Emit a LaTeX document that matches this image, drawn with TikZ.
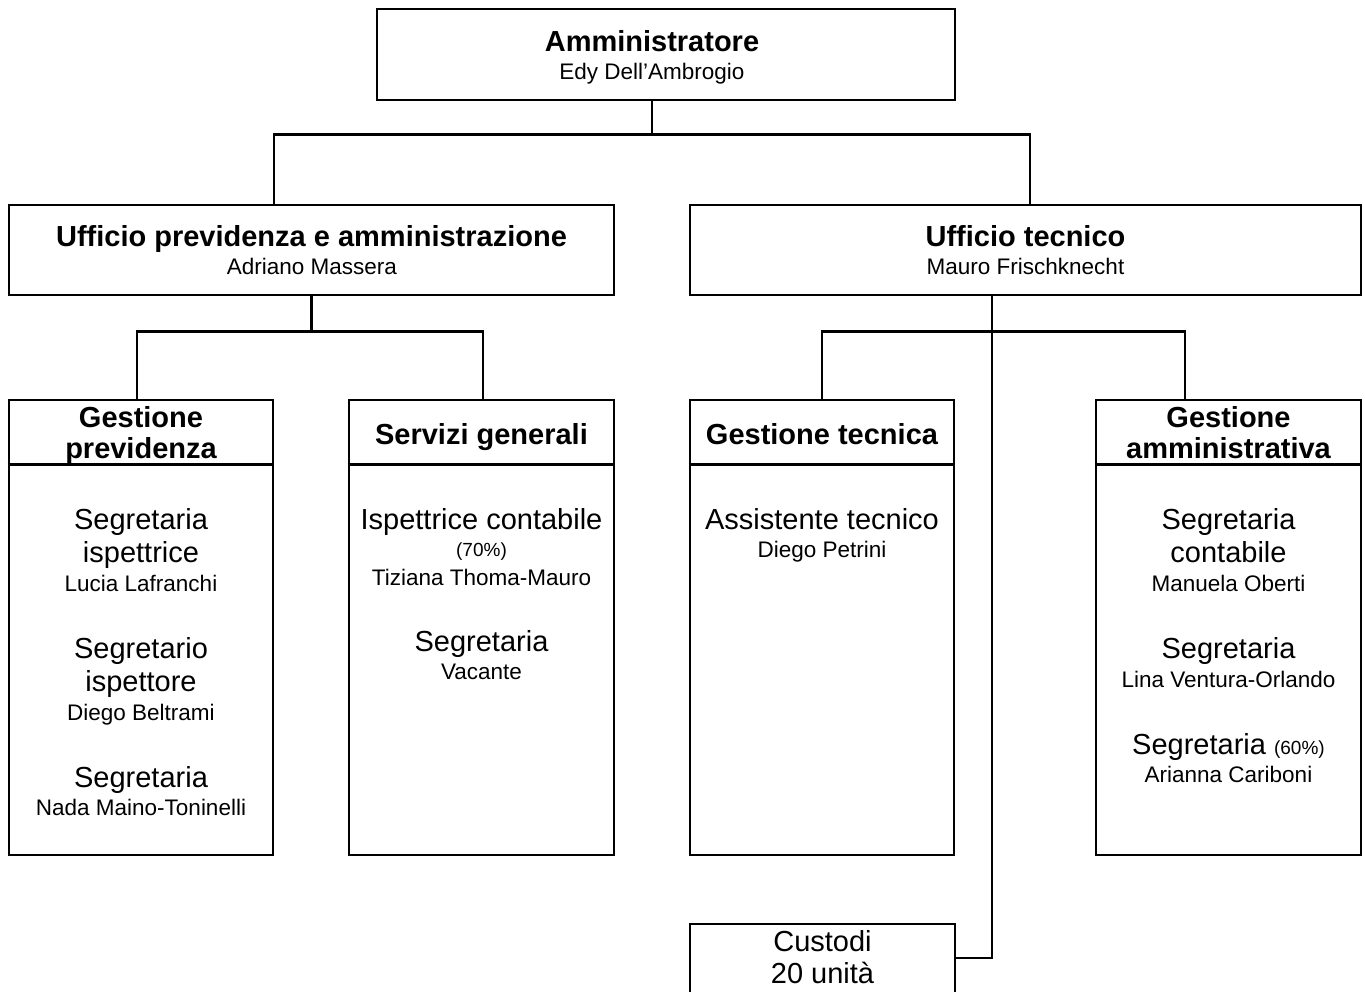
\documentclass[tikz,border=0pt]{standalone}
\usepackage{fontspec}
\setmainfont{Liberation Sans}
\usetikzlibrary{calc}
\tikzset{
  box/.style={draw, line width=2.8pt, inner sep=0pt, minimum width=#1},
  conn/.style={line width=2.8pt},
  hd/.style={anchor=base, inner sep=0pt, font=\fontsize{29}{34}\selectfont\bfseries},
  rl/.style={anchor=base, inner sep=0pt, font=\fontsize{29}{34}\selectfont},
  nm/.style={anchor=base, inner sep=0pt, font=\fontsize{22.5}{27}\selectfont},
  pc/.style={anchor=base, inner sep=0pt, font=\fontsize{19}{23}\selectfont},
}
\begin{document}
\begin{tikzpicture}[x=1pt,y=-1pt]
\useasboundingbox (0,0) rectangle (1365,992);
\clip (0,0) rectangle (1365,992);
\fill[white] (0,0) rectangle (1365,992);

% boxes
\node[box=578pt, minimum height=91pt] (amm) at (666,54.5) {};
\node[box=605pt, minimum height=90pt] (uprev) at (311.5,250) {};
\node[box=671pt, minimum height=90pt] (utec) at (1025.5,250) {};
\node[box=264pt, minimum height=455pt] (gp) at (141,627.5) {};
\node[box=265pt, minimum height=455pt] (sg) at (481.5,627.5) {};
\node[box=264pt, minimum height=455pt] (gt) at (822,627.5) {};
\node[box=265pt, minimum height=455pt] (ga) at (1228.5,627.5) {};
\node[box=265pt, minimum height=80pt] (cust) at (822.5,964) {};

% header dividers
\foreach \b in {gp,sg,gt,ga}{
  \draw[conn] ([yshift=-66pt]\b.north west) -- ([yshift=-66pt]\b.north east);
}

% connectors
\draw[conn] ([xshift=-14pt]amm.south) -- ++(0,33) coordinate (j1);
\draw[conn] ([xshift=-37.5pt]uprev.north) |- (j1) -| ([xshift=4.5pt]utec.north);
\draw[conn] (uprev.south) -- ++(0,35) coordinate (j2);
\draw[conn] ([xshift=-4pt]gp.north) |- (j2) -| ([xshift=1.5pt]sg.north);
\draw[conn] ([xshift=-33.5pt]utec.south) -- ++(0,35) coordinate (j3);
\draw[conn] (gt.north) |- (j3) -| ([xshift=-43.5pt]ga.north);
\draw[conn] (j3) |- ([yshift=6pt]cust.east);

% texts
\node[hd] (a1) at (652,52) {Amministratore};
\node[nm] (a2) at (652,80) {Edy Dell’Ambrogio};
\node[hd] (u1) at (311.5,247) {Ufficio previdenza e amministrazione};
\node[nm] (u2) at (312,275) {Adriano Massera};
\node[hd] (v1) at (1025.5,247) {Ufficio tecnico};
\node[nm] (v2) at (1025.5,275) {Mauro Frischknecht};

\node[hd] (g1) at (141,427) {Gestione};
\node[hd] (g2) at (141,458) {previdenza};
\node[rl] (g3) at (141,529) {Segretaria};
\node[rl] (g4) at (141,562) {ispettrice};
\node[nm] (g5) at (141,591) {Lucia Lafranchi};
\node[rl] (g6) at (141,658) {Segretario};
\node[rl] (g7) at (141,691) {ispettore};
\node[nm] (g8) at (141,720) {Diego Beltrami};
\node[rl] (g9) at (141,787) {Segretaria};
\node[nm] (g10) at (141,815) {Nada Maino-Toninelli};

\node[hd] (s1) at (481.5,444) {Servizi generali};
\node[rl] (s2) at (481.5,529) {Ispettrice contabile};
\node[pc] (s3) at (481.5,556) {(70\%)};
\node[nm] (s4) at (481.5,585) {Tiziana Thoma-Mauro};
\node[rl] (s5) at (481.5,651) {Segretaria};
\node[nm] (s6) at (481.5,679) {Vacante};

\node[hd] (t1) at (822,444) {Gestione tecnica};
\node[rl] (t2) at (822,529) {Assistente tecnico};
\node[nm] (t3) at (822,557) {Diego Petrini};

\node[hd] (m1) at (1228.5,427) {Gestione};
\node[hd] (m2) at (1228.5,458) {amministrativa};
\node[rl] (m3) at (1228.5,529) {Segretaria};
\node[rl] (m4) at (1228.5,562) {contabile};
\node[nm] (m5) at (1228.5,591) {Manuela Oberti};
\node[rl] (m6) at (1228.5,658) {Segretaria};
\node[nm] (m7) at (1228.5,687) {Lina Ventura-Orlando};
\node[rl] (m8) at (1228.5,754) {Segretaria {\fontsize{19}{23}\selectfont(60\%)}};
\node[nm] (m9) at (1228.5,782) {Arianna Cariboni};

\node[rl] (c1) at (822.5,951) {Custodi};
\node[rl] (c2) at (822.5,983) {20 unità};
\end{tikzpicture}
\end{document}
